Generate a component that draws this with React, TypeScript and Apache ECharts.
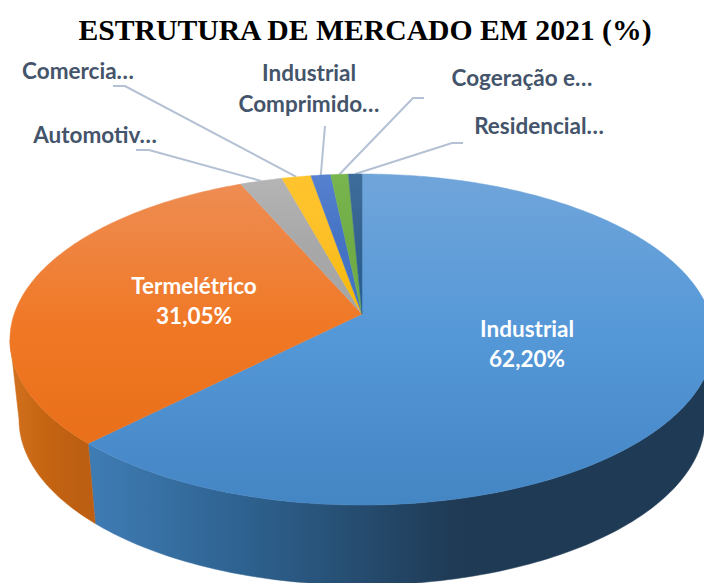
import React, { useEffect, useRef } from "react";
import * as echarts from "echarts";

const TITLE = "ESTRUTURA DE MERCADO EM 2021 (%)";
// clockwise from twelve o'clock
const names = ["Industrial", "Termelétrico", "Automotivo", "Comercial", "Industrial Comprimido", "Cogeração e outros", "Residencial"];
const values = [62.2, 31.05, 2.25, 1.55, 1.05, 0.93, 0.72];
const insideLabels = [
  { lines: ["Industrial", "62,20%"], x: 527, y: 343 },
  { lines: ["Termelétrico", "31,05%"], x: 194, y: 300 },
];
const outsideLabels = [
  { slice: 2, lines: ["Automotiv…"], x: 95, y: 134, elbow: [[136, 150], [149, 150]] },
  { slice: 3, lines: ["Comercia…"], x: 78, y: 70, elbow: [[113, 86], [125, 86]] },
  { slice: 4, lines: ["Industrial", "Comprimido…"], x: 309, y: 88, elbow: [[325, 126]] },
  { slice: 5, lines: ["Cogeração e…"], x: 522, y: 77, elbow: [[424, 98], [413, 98]] },
  { slice: 6, lines: ["Residencial…"], x: 539, y: 125, elbow: [[463, 143], [452, 143]] },
];
const topColors = [
  ["#70a5da", "#5598d8", "#4485c4"],
  ["#ee8e56", "#f07723", "#e56b16"],
  ["#b5b5b5", "#a8a8a8", "#a5a5a5"],
  ["#ffc42e", "#fcbf26", "#f5b800"],
  ["#5681cf", "#4472c4", "#4472c4"],
  ["#78b54f", "#70ad47", "#70ad47"],
  ["#3f6d9b", "#33628f", "#255e91"],
];
const wallColors = [
  ["#3f7cb4", "#2e6290", "#1f3b56", "#1e3a55"],
  ["#d2721f", "#c56512", "#bd5f12", "#bd5f12"],
];

const CX = 362;
const APEX_Y = 314;
const K = 0.1541;
const TOP_A = 347.8;
const BOTTOM_A = 338.9;
const B = 161.6;
const DEPTH = 80;
// angles at which the rim is at its widest; the wall shows only between them
const FRONT_FROM = Math.acos(-K);
const FRONT_TO = Math.PI * 2 - FRONT_FROM;

const total = values.reduce((a, b) => a + b, 0);
const startOf = (i: number) => (values.slice(0, i).reduce((a, b) => a + b, 0) / total) * Math.PI * 2;

function project(theta: number, A: number, yOffset: number): number[] {
  const u = Math.sin(theta);
  const v = -Math.cos(theta);
  const d = 1 - K * v;
  return [CX + (A * u) / d, APEX_Y + yOffset + (B * v) / d];
}

function arcBetween(a0: number, a1: number, A: number, yOffset: number): number[][] {
  const n = Math.max(4, Math.ceil(((a1 - a0) * 180) / Math.PI));
  const pts: number[][] = [];
  for (let j = 0; j <= n; j++) pts.push(project(a0 + ((a1 - a0) * j) / n, A, yOffset));
  return pts;
}

function linear(x0: number, y0: number, x1: number, y1: number, stops: string[], offsets: number[]) {
  return new echarts.graphic.LinearGradient(
    x0, y0, x1, y1,
    stops.map((color, k) => ({ offset: offsets[k], color })),
    true
  );
}

function renderWall(params: any) {
  const i = params.dataIndex;
  const a0 = Math.max(startOf(i), FRONT_FROM);
  const a1 = Math.min(startOf(i + 1), FRONT_TO);
  if (a1 <= a0 || !wallColors[i]) return { type: "group", children: [] };
  const top = arcBetween(a0, a1, TOP_A, 0);
  const bottom = arcBetween(a0, a1, BOTTOM_A, DEPTH).reverse();
  const f = i === 1
    ? linear(10, 0, 95, 0, wallColors[i], [0, 0.4, 0.8, 1])
    : linear(90, 0, 470, 0, wallColors[i], [0, 0.4, 0.95, 1]);
  return {
    type: "polygon",
    shape: { points: top.concat(bottom) },
    style: { fill: f, stroke: f, lineWidth: 0.5 },
  };
}

function renderTop(params: any) {
  const i = params.dataIndex;
  const pts = [[CX, APEX_Y]].concat(arcBetween(startOf(i), startOf(i + 1), TOP_A, 0));
  const y1 = i < 2 ? 506 : 314;
  const f = linear(0, 174, 0, y1, topColors[i], [0, i < 2 ? 0.48 : 0.5, 1]);
  return {
    type: "polygon",
    shape: { points: pts },
    style: { fill: f, stroke: f, lineWidth: 0.5 },
  };
}

const labelFont = { fontFamily: "Lato", fontWeight: "bold" as const, fontSize: 22.5 };

function textElements(lines: string[], x: number, y: number, fill: string, lh: number) {
  return lines.map((line, k) => ({
    type: "text",
    x,
    y: y + (k - (lines.length - 1) / 2) * lh,
    style: { text: line, fill, textAlign: "center", textVerticalAlign: "middle", ...labelFont },
  }));
}

function renderInsideLabel(params: any) {
  const l = insideLabels[params.dataIndex];
  if (!l) return { type: "group", children: [] };
  return { type: "group", children: textElements(l.lines, l.x, l.y, "#ffffff", 30) };
}

function buildGraphic() {
  const els: any[] = [];
  outsideLabels.forEach((l) => {
    const mid = (startOf(l.slice) + startOf(l.slice + 1)) / 2;
    const rim = project(mid, TOP_A, 0);
    els.push({
      type: "polyline",
      shape: { points: [...l.elbow, rim] },
      style: { stroke: "#b4c1d4", lineWidth: 2, fill: "none" },
      silent: true,
    });
    els.push(...textElements(l.lines, l.x, l.y, "#44546a", 31));
  });
  return els;
}

export default function App() {
  const ref = useRef<HTMLDivElement>(null);
  useEffect(() => {
    document.body.style.margin = "0";
    const chart = echarts.init(ref.current as HTMLDivElement, undefined, { renderer: "svg" });
    const data = values.map((v, i) => ({ name: names[i], value: [v] }));
    chart.setOption({
      animation: false,
      backgroundColor: "#ffffff",
      title: {
        text: TITLE,
        left: 360,
        top: 10,
        textAlign: "center",
        textStyle: { fontFamily: "Liberation Serif", fontWeight: "bold", fontSize: 29.7, color: "#000000" },
      },
      graphic: { elements: buildGraphic() },
      series: [
        { type: "custom", coordinateSystem: "none", renderItem: renderWall, data, silent: true, z: 1 },
        { type: "custom", coordinateSystem: "none", renderItem: renderTop, data, silent: true, z: 2 },
        { type: "custom", coordinateSystem: "none", renderItem: renderInsideLabel, data, silent: true, z: 3 },
      ],
    });
    return () => chart.dispose();
  }, []);
  return <div ref={ref} style={{ position: "absolute", left: 0, top: 0, width: 704, height: 583 }} />;
}
